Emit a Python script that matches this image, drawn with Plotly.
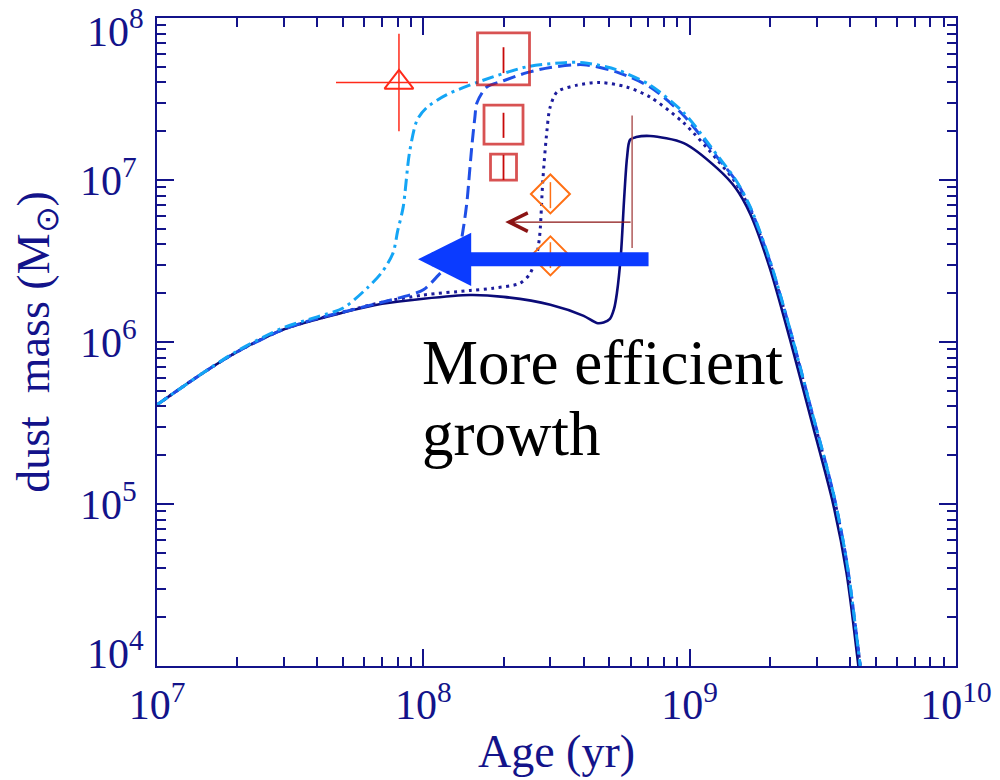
import numpy as np
import plotly.graph_objects as go

# ---- model tracks: galaxy age (yr) vs. dust mass (Msun) ----
age_solid = [1e7, 1.5e7, 2e7, 3e7, 5e7, 7e7, 1e8, 1.5e8, 2e8, 3e8, 4e8, 4.48e8, 4.75e8,
             5.02e8, 5.2e8, 5.33e8, 5.52e8, 5.67e8, 5.82e8, 5.97e8, 6.3e8, 7.1e8, 9.5e8,
             1.27e9, 1.49e9, 1.69e9, 2.0e9, 2.38e9, 2.83e9, 3.46e9, 3.88e9, 4.3e9]
mass_solid = [4.1e5, 6.5e5, 8.7e5, 1.2e6, 1.52e6, 1.72e6, 1.85e6, 1.95e6, 1.9e6, 1.7e6, 1.45e6,
              1.31e6, 1.32e6, 1.39e6, 1.6e6, 2.0e6, 3.5e6, 7.5e6, 1.38e7, 1.77e7, 1.84e7, 1.87e7,
              1.69e7, 1.18e7, 8.9e6, 6.15e6, 2.86e6, 1.04e6, 3.53e5, 9.95e4, 3.78e4, 1.0e4]

age_dot = [1e7, 1.5e7, 2e7, 3e7, 5e7, 7e7, 1e8, 1.5e8, 1.83e8, 2.3e8, 2.5e8, 2.58e8, 2.68e8,
           2.74e8, 2.81e8, 2.91e8, 2.99e8, 3.18e8, 3.78e8, 4.6e8, 5.8e8, 7.1e8, 9.5e8, 1.27e9,
           1.49e9, 1.69e9, 2.0e9, 2.38e9, 2.83e9, 3.46e9, 3.88e9, 4.37e9]
mass_dot = [4.1e5, 6.5e5, 8.7e5, 1.2e6, 1.53e6, 1.76e6, 1.95e6, 2.08e6, 2.15e6, 2.3e6, 2.6e6,
            2.9e6, 3.6e6, 4.7e6, 1.0e7, 2.0e7, 2.8e7, 3.5e7, 3.85e7, 4.0e7, 3.75e7, 3.25e7,
            2.25e7, 1.33e7, 9.6e6, 6.5e6, 3.1e6, 1.18e6, 4.0e5, 1.15e5, 4.4e4, 1.0e4]

age_dash = [1e7, 1.5e7, 2e7, 3e7, 4e7, 5e7, 7e7, 8.2e7, 1e8, 1.16e8, 1.29e8, 1.37e8, 1.42e8,
            1.46e8, 1.49e8, 1.52e8, 1.56e8, 1.59e8, 1.73e8, 2.0e8, 2.45e8, 3.0e8, 4.0e8, 5.3e8,
            7.1e8, 9.5e8, 1.27e9, 1.49e9, 1.69e9, 2.0e9, 2.38e9, 2.83e9, 3.46e9, 3.88e9, 4.37e9]
mass_dash = [4.1e5, 6.5e5, 8.7e5, 1.2e6, 1.4e6, 1.53e6, 1.76e6, 1.88e6, 2.1e6, 2.66e6, 3.1e6,
             3.85e6, 5.3e6, 7.5e6, 1.1e7, 1.6e7, 2.4e7, 3.0e7, 3.75e7, 4.1e7, 4.6e7, 4.95e7,
             5.15e7, 4.65e7, 3.75e7, 2.5e7, 1.38e7, 9.9e6, 6.7e6, 3.15e6, 1.2e6, 4.1e5, 1.17e5,
             4.5e4, 1.0e4]

age_dashdot = [1e7, 1.5e7, 2e7, 3e7, 4e7, 5e7, 6.15e7, 7e7, 7.7e7, 8.0e7, 8.4e7, 8.87e7, 9.47e7,
               1.03e8, 1.22e8, 1.59e8, 2.45e8, 3.4e8, 4.0e8, 5.3e8, 7.1e8, 9.5e8, 1.27e9,
               1.49e9, 1.69e9, 2.0e9, 2.38e9, 2.83e9, 3.46e9, 3.88e9, 4.37e9]
mass_dashdot = [4.1e5, 6.5e5, 8.8e5, 1.23e6, 1.43e6, 1.62e6, 2.15e6, 2.7e6, 3.55e6, 4.8e6, 6.8e6,
                1.47e7, 2.34e7, 2.8e7, 3.35e7, 4.0e7, 5.0e7, 5.3e7, 5.3e7, 4.8e7, 3.85e7, 2.6e7,
                1.42e7, 1.0e7, 6.8e6, 3.2e6, 1.2e6, 4.1e5, 1.17e5, 4.5e4, 1.0e4]

# ---- observed galaxies ----
tri_age, tri_age_lo, tri_age_hi = [8.1e7], [4.7e7], [1.47e8]
tri_mass, tri_mass_lo, tri_mass_hi = [4.0e7], [2.0e7], [8.0e7]

sq_age = [2.0e8, 2.0e8, 2.0e8]
sq_mass = [5.6e7, 2.2e7, 1.2e7]
sq_mass_lo = [4.57e7, 1.82e7, 1.0e7]
sq_mass_hi = [6.6e7, 2.6e7, 1.43e7]

dia_age = [3.0e8, 3.0e8]
dia_mass = [8.2e6, 3.4e6]
dia_mass_lo = [6.7e6, 2.86e6]
dia_mass_hi = [9.7e6, 4.13e6]

# age upper limit with a dust-mass range
lim_age = 6.08e8
lim_age_arrow_to = 2.03e8
lim_arrow_mass = 5.5e6
lim_mass_range = [3.8e6, 2.5e7]

# "more efficient growth" arrow (age span, dust mass level)
big_arrow_from, big_arrow_to, big_arrow_mass = 7.1e8, 9.55e7, 3.24e6

# ---- axis ticks ----
x_decades = [1e7, 1e8, 1e9, 1e10]
x_ticktext = ["10<sup>7</sup>", "10<sup>8</sup>", "10<sup>9</sup>", "10<sup>10</sup>"]
y_decades = [1e4, 1e5, 1e6, 1e7, 1e8]
y_ticktext = ["10<sup>4</sup>", "10<sup>5</sup>", "10<sup>6</sup>", "10<sup>7</sup>", "10<sup>8</sup>"]

NAVY = "#13138a"
SERIF = "Liberation Serif, Times New Roman, serif"
TICK_SIZE = 42


def plus(v, hi):
    return [h - x for x, h in zip(v, hi)]


def minus(v, lo):
    return [x - l for x, l in zip(v, lo)]


def model_line(color, width, dash=None):
    return dict(color=color, width=width, dash=dash, shape="spline", smoothing=0.8)


def minor_vals(decades):
    return [m * d for d in decades[:-1] for m in range(2, 10)]


fig = go.Figure()

fig.add_trace(go.Scatter(x=age_solid, y=mass_solid, mode="lines",
                         line=model_line("#0b0b78", 2.6)))
fig.add_trace(go.Scatter(x=age_dot, y=mass_dot, mode="lines",
                         line=model_line("#1c1c9c", 3, "3px,4.5px")))
fig.add_trace(go.Scatter(x=age_dash, y=mass_dash, mode="lines",
                         line=model_line("#1f4fe6", 3, "13px,6px")))
fig.add_trace(go.Scatter(x=age_dashdot, y=mass_dashdot, mode="lines",
                         line=model_line("#14a5f5", 3, "12px,5px,3px,5px")))

# triangle with age and mass error bars
TRI_C = "#ff2a1a"
fig.add_trace(go.Scatter(
    x=tri_age, y=tri_mass, mode="markers",
    marker=dict(symbol="triangle-up-open", size=25, color=TRI_C, line=dict(width=2, color=TRI_C)),
    error_x=dict(type="data", symmetric=False, array=plus(tri_age, tri_age_hi),
                 arrayminus=minus(tri_age, tri_age_lo), color=TRI_C, thickness=1.5, width=0),
    error_y=dict(type="data", symmetric=False, array=plus(tri_mass, tri_mass_hi),
                 arrayminus=minus(tri_mass, tri_mass_lo), color=TRI_C, thickness=1.5, width=0),
))

# open squares of decreasing size
SQ_C = "#c80808"
fig.add_trace(go.Scatter(
    x=sq_age, y=sq_mass, mode="markers",
    marker=dict(symbol="square-open", size=[52, 39, 26], color=SQ_C,
                line=dict(width=2.8, color=SQ_C)),
    error_y=dict(type="data", symmetric=False, array=plus(sq_mass, sq_mass_hi),
                 arrayminus=minus(sq_mass, sq_mass_lo), color=SQ_C, thickness=1.8, width=0),
))

# open diamonds
DIA_C = "#ff7014"
fig.add_trace(go.Scatter(
    x=dia_age, y=dia_mass, mode="markers",
    marker=dict(symbol="diamond-open", size=30, color=DIA_C, line=dict(width=2, color=DIA_C)),
    error_y=dict(type="data", symmetric=False, array=plus(dia_mass, dia_mass_hi),
                 arrayminus=minus(dia_mass, dia_mass_lo), color=DIA_C, thickness=1.5, width=0),
))

# upper-limit age: vertical mass range
fig.add_trace(go.Scatter(x=[lim_age, lim_age], y=lim_mass_range, mode="lines",
                         line=dict(color="#b05a5a", width=1.5)))

fig.add_annotation(x=np.log10(lim_age_arrow_to), y=np.log10(lim_arrow_mass),
                   ax=np.log10(lim_age), ay=np.log10(lim_arrow_mass),
                   xref="x", yref="y", axref="x", ayref="y", text="",
                   showarrow=True, arrowhead=5, arrowsize=2.8, arrowwidth=1.3,
                   arrowcolor="#8b1414", standoff=0)

fig.add_annotation(x=np.log10(big_arrow_to), y=np.log10(big_arrow_mass),
                   ax=np.log10(big_arrow_from), ay=np.log10(big_arrow_mass),
                   xref="x", yref="y", axref="x", ayref="y", text="",
                   showarrow=True, arrowhead=2, arrowsize=0.76, arrowwidth=14,
                   arrowcolor="#0b3bff", standoff=0)

TEXT_FONT = dict(family="Liberation Serif, Times New Roman, serif", size=63, color="black")
fig.add_annotation(x=0.329, y=(666 - 362.5) / 648, xref="paper", yref="paper",
                   text="More efficient", showarrow=False, xanchor="left", yanchor="middle",
                   font=TEXT_FONT)
fig.add_annotation(x=0.329, y=(666 - 433.5) / 648, xref="paper", yref="paper",
                   text="growth", showarrow=False, xanchor="left", yanchor="middle",
                   font=TEXT_FONT)

# the end labels of the mass axis sit just inside the frame
tick_font = dict(family=SERIF, size=TICK_SIZE, color=NAVY)
fig.add_annotation(x=-0.014, y=0.984, xref="paper", yref="paper", text=y_ticktext[-1],
                   showarrow=False, xanchor="right", yanchor="middle", font=tick_font)
fig.add_annotation(x=-0.014, y=0.024, xref="paper", yref="paper", text=y_ticktext[0],
                   showarrow=False, xanchor="right", yanchor="middle", font=tick_font)

axis_common = dict(
    type="log", tickmode="array",
    ticks="inside", ticklen=17, tickwidth=2, tickcolor=NAVY,
    showline=True, linecolor=NAVY, linewidth=2, mirror="allticks",
    showgrid=False, zeroline=False,
    tickfont=tick_font,
    automargin=False,
)
minor_common = dict(ticks="inside", ticklen=9, tickwidth=1.5, tickcolor=NAVY, showgrid=False,
                    tickmode="array")

fig.update_xaxes(range=[7, 10], ticklabelstandoff=1,
                 tickvals=x_decades, ticktext=x_ticktext,
                 minor=dict(tickvals=minor_vals(x_decades), **minor_common),
                 title=dict(text="Age (yr)", font=dict(family=SERIF, size=46, color=NAVY),
                            standoff=7),
                 **axis_common)
fig.update_yaxes(range=[4, 8], ticklabelstandoff=10,
                 tickvals=y_decades, ticktext=[""] + y_ticktext[1:-1] + [""],
                 minor=dict(tickvals=minor_vals(y_decades), **minor_common),
                 title=dict(text="dust\u00a0 mass (M<sub>\u2299</sub>)",
                            font=dict(family=SERIF, size=46, color=NAVY), standoff=16),
                 **axis_common)

fig.update_layout(
    width=1000, height=780,
    margin=dict(l=157, r=44, t=18, b=114),
    paper_bgcolor="white", plot_bgcolor="white",
    showlegend=False,
)

fig.write_html("out.html")
